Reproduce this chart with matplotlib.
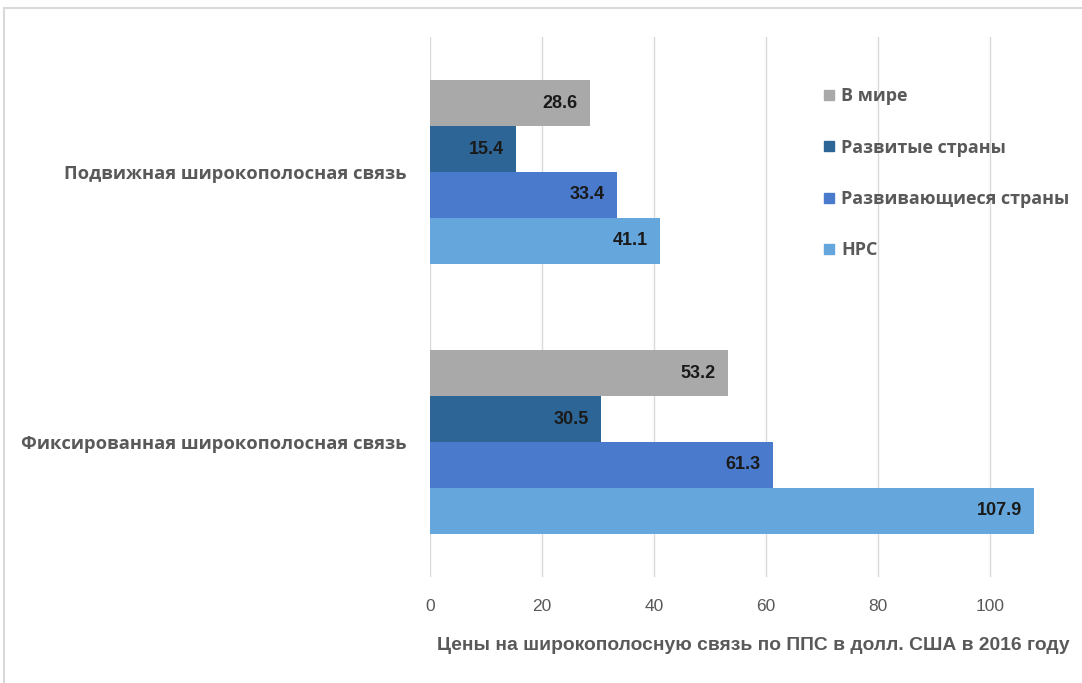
import matplotlib
matplotlib.use("Agg")
import matplotlib.pyplot as plt
from matplotlib.patches import Rectangle
from matplotlib.lines import Line2D

categories = ["Фиксированная широкополосная связь", "Подвижная широкополосная связь"]
series_names = ["В мире", "Развитые страны", "Развивающиеся страны", "НРС"]
values = {
    "В мире": [53.2, 28.6],
    "Развитые страны": [30.5, 15.4],
    "Развивающиеся страны": [61.3, 33.4],
    "НРС": [107.9, 41.1],
}
colors = ["#A9A9A9", "#2C6596", "#4A7ACB", "#65A6DC"]
xticks = [0, 20, 40, 60, 80, 100]
xlabel = "Цены на широкополосную связь по ППС в долл. США в 2016 году"

W, H = 1082, 683
fig = plt.figure(figsize=(W / 100, H / 100), dpi=100)
narrow = ["Liberation Sans Narrow", "Liberation Sans", "DejaVu Sans"]
bold_font = ["Open Sans", "DejaVu Sans"]

# outer chart border
fig.patches.append(Rectangle((4 / W, -0.01), 1.1, (H - 8) / H + 0.01,
                             transform=fig.transFigure, fill=False,
                             edgecolor="#D9D9D9", linewidth=1.5))

left, right = 430 / W, 1046 / W
top, bottom = 1 - 37 / H, 1 - 577 / H
ax = fig.add_axes([left, bottom, right - left, top - bottom])
ax.set_xlim(0, 110)
ax.set_ylim(-0.5, 1.5)

bar_h = 0.17
n = len(series_names)
for i, (name, c) in enumerate(zip(series_names, colors)):
    offset = (n - 1) / 2 * bar_h - i * bar_h
    for j, v in enumerate(values[name]):
        y = j + offset
        ax.barh(y, v, height=bar_h, color=c, zorder=2)
        ax.text(v - 2.2, y, f"{v:.1f}", ha="right", va="center",
                fontsize=13, fontweight="bold", color="#1a1a1a",
                family=narrow, zorder=3)

ax.set_xticks(xticks)
ax.set_xticklabels([str(t) for t in xticks], family=narrow, fontsize=12.5,
                   color="#595959")
ax.tick_params(axis="x", length=0, pad=16)
ax.set_yticks([0, 1])
ax.set_yticklabels(categories, family=bold_font, fontsize=13.2, fontweight="bold",
                   color="#595959")
ax.tick_params(axis="y", length=0, pad=17)
ax.grid(axis="x", color="#D9D9D9", linewidth=1, zorder=0)
for s in ax.spines.values():
    s.set_visible(False)

fig.text(437 / W, 1 - 645 / H, xlabel, ha="left", va="center",
         family=narrow, fontsize=13.9, fontweight="bold", color="#595959")

handles = [Line2D([0], [0], marker="s", linestyle="none", markersize=7,
                  markerfacecolor=c, markeredgecolor=c) for c in colors]
leg = fig.legend(handles, series_names, loc="upper left",
                 bbox_to_anchor=(806 / W, 1 - 71 / H), frameon=False,
                 labelspacing=1.85, handlelength=0.8, handletextpad=0.25,
                 prop={"family": bold_font, "size": 13, "weight": "bold"})
for t in leg.get_texts():
    t.set_color("#595959")

fig.savefig("out.png", dpi=100, facecolor="white")
